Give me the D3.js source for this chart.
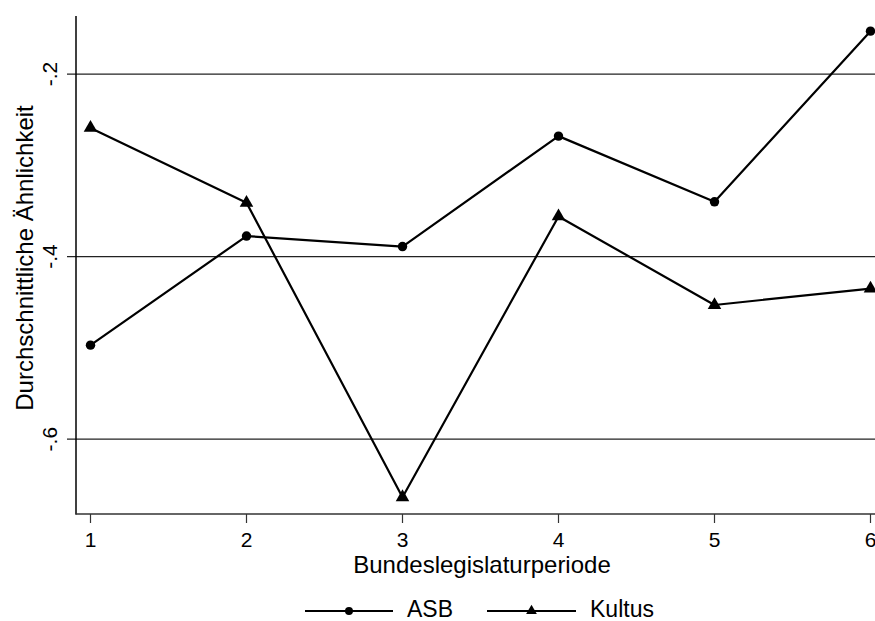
<!DOCTYPE html>
<html>
<head>
<meta charset="utf-8">
<script src="https://cdn.jsdelivr.net/npm/d3@7"></script>
<style>
  html, body { margin: 0; padding: 0; background: #fff; }
  svg { display: block; font-family: "Liberation Sans", Arial, sans-serif; }
</style>
</head>
<body>
<svg id="chart" width="875" height="621"></svg>
<script>
// Legislative periods and average similarity per series
const periods = [1, 2, 3, 4, 5, 6];
const asbValues = [-0.497, -0.3775, -0.389, -0.268, -0.340, -0.153];
const kultusValues = [-0.259, -0.341, -0.6636, -0.356, -0.453, -0.435];
const yTicks = [-0.2, -0.4, -0.6];
const yTickLabels = ["-.2", "-.4", "-.6"];
const seriesNames = ["ASB", "Kultus"];

(function () {
  const svg = d3.select("#chart");
  const plotLeft = 76, plotTop = 16, plotBottom = 514, plotRight = 875;

  const x = d3.scaleLinear().domain([1, 6]).range([90.5, 870.5]);
  const y = d3.scaleLinear().domain([-0.682, -0.1364]).range([plotBottom, plotTop]);

  // Horizontal grid lines (extend left as ticks)
  svg.append("g").selectAll("line").data(yTicks).join("line")
    .attr("x1", plotLeft - 9).attr("x2", plotRight)
    .attr("y1", d => y(d)).attr("y2", d => y(d))
    .attr("stroke", "#222").attr("stroke-width", 1.2);

  // Y axis line
  svg.append("line").attr("x1", plotLeft).attr("x2", plotLeft)
    .attr("y1", plotTop).attr("y2", plotBottom + 0.5)
    .attr("stroke", "#000").attr("stroke-width", 1.5);

  // X axis line
  svg.append("line").attr("x1", plotLeft - 0.5).attr("x2", plotRight)
    .attr("y1", plotBottom).attr("y2", plotBottom)
    .attr("stroke", "#333").attr("stroke-width", 1.5);

  // X ticks and labels
  const xg = svg.append("g");
  xg.selectAll("line").data(periods).join("line")
    .attr("x1", d => x(d)).attr("x2", d => x(d))
    .attr("y1", plotBottom).attr("y2", plotBottom + 9)
    .attr("stroke", "#333").attr("stroke-width", 1.2);
  xg.selectAll("text").data(periods).join("text")
    .attr("x", d => x(d)).attr("y", 547)
    .attr("text-anchor", "middle").attr("font-size", 21).attr("fill", "#000")
    .text(d => d);

  // Y tick labels, rotated
  svg.append("g").selectAll("text").data(yTicks).join("text")
    .attr("transform", d => `translate(57,${y(d)}) rotate(-90)`)
    .attr("text-anchor", "middle").attr("font-size", 21).attr("fill", "#000")
    .text((d, i) => yTickLabels[i]);

  // Axis titles
  svg.append("text").attr("x", 482).attr("y", 573)
    .attr("text-anchor", "middle").attr("font-size", 24).text("Bundeslegislaturperiode");
  svg.append("text").attr("transform", `translate(33,258) rotate(-90)`)
    .attr("text-anchor", "middle").attr("font-size", 24).text("Durchschnittliche Ähnlichkeit");

  const line = d3.line().x((d, i) => x(periods[i])).y(d => y(d));
  const circleSym = d3.symbol().type(d3.symbolCircle).size(70);
  const triSym = d3.symbol().type(d3.symbolTriangle).size(80);

  function drawSeries(vals, sym) {
    svg.append("path").datum(vals).attr("d", line)
      .attr("fill", "none").attr("stroke", "#000").attr("stroke-width", 2.2)
      .attr("stroke-linejoin", "round");
    svg.append("g").selectAll("path").data(vals).join("path")
      .attr("d", sym)
      .attr("transform", (d, i) => `translate(${x(periods[i])},${y(d)})`)
      .attr("fill", "#000");
  }
  drawSeries(asbValues, circleSym);
  drawSeries(kultusValues, triSym);

  // Legend
  const legend = [
    { name: seriesNames[0], type: d3.symbolCircle, x1: 305, x2: 393, tx: 407 },
    { name: seriesNames[1], type: d3.symbolTriangle, x1: 487, x2: 576, tx: 590 }
  ];
  const ly = 611;
  legend.forEach(l => {
    svg.append("line").attr("x1", l.x1).attr("x2", l.x2).attr("y1", ly).attr("y2", ly)
      .attr("stroke", "#000").attr("stroke-width", 2.2);
    svg.append("path").attr("d", d3.symbol().type(l.type).size(50)())
      .attr("transform", `translate(${(l.x1 + l.x2) / 2},${ly})`).attr("fill", "#000");
    svg.append("text").attr("x", l.tx).attr("y", 617)
      .attr("font-size", 23).text(l.name);
  });
})();
</script>
</body>
</html>
